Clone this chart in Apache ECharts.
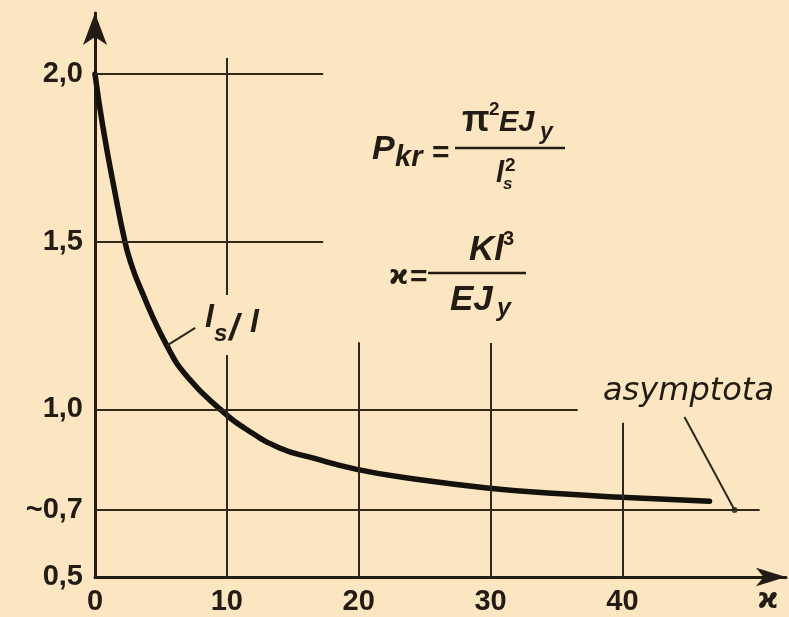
<!DOCTYPE html>
<html>
<head>
<meta charset="utf-8">
<script src="https://cdn.jsdelivr.net/npm/echarts@6/dist/echarts.min.js"></script>
<style>
html,body{margin:0;padding:0;background:#FBE6C1;}
#chart{width:789px;height:617px;}
</style>
</head>
<body>
<div id="chart"></div>
<script>
// ---- data ----
const curveX = [0, 0.6, 1.52, 2.27, 2.65, 3.4, 5.45, 7.05, 9.5, 11.5, 14.0, 16.5, 19.85, 24.1, 29.9, 35.0, 39.9, 46.6];
const curveY = [2.0, 1.842, 1.645, 1.5, 1.445, 1.365, 1.19, 1.095, 1.0, 0.94, 0.885, 0.855, 0.821, 0.793, 0.765, 0.749, 0.738, 0.726];
const xTicks = [0, 10, 20, 30, 40];
const yTickValues = [0.5, 0.7, 1.0, 1.5, 2.0];
const yTickLabels = ['0,5', '~0,7', '1,0', '1,5', '2,0'];
// horizontal guide lines: [y, xEnd]
const hLines = [[2.0, 17.3], [1.5, 17.3], [1.0, 36.6], [0.7, 50.4]];
// vertical guide lines: [x, yFrom, yTo]
const vLines = [[10, 1.341, 2.048], [10, 0.5, 1.162], [20, 0.5, 1.20], [30, 0.5, 1.198], [40, 0.5, 0.96]];
const lsLeader = [[5.45, 1.19], [7.6, 1.243]];
const asymLeader = [[44.7, 0.977], [48.5, 0.7]];
const asymPoint = [48.5, 0.7];

const ink = '#221c14';
const chart = echarts.init(document.getElementById('chart'), null, {renderer: 'canvas'});

const guideData = [];
hLines.forEach(h => guideData.push([{coord: [0, h[0]]}, {coord: [h[1], h[0]]}]));
vLines.forEach(v => guideData.push([{coord: [v[0], v[1]]}, {coord: [v[0], v[2]]}]));
guideData.push([{coord: lsLeader[0]}, {coord: lsLeader[1]}]);
guideData.push([{coord: asymLeader[0]}, {coord: asymLeader[1]}]);

function txt(x, y, text, size, opts) {
  opts = opts || {};
  return {
    type: 'text', x: x, y: y, silent: true, z: 10,
    style: {
      text: text, fill: ink,
      fontSize: size,
      fontFamily: opts.family || 'Liberation Sans',
      fontStyle: opts.italic === false ? 'normal' : 'italic',
      fontWeight: opts.weight || 'bold',
      align: 'left', verticalAlign: 'middle'
    }
  };
}
function bar(x1, x2, y) {
  return {type: 'line', silent: true, z: 10, shape: {x1: x1, y1: y, x2: x2, y2: y}, style: {stroke: ink, lineWidth: 2.5}};
}

chart.setOption({
  animation: false,
  backgroundColor: '#FBE6C1',
  grid: {left: 95, right: 2, top: 13, bottom: 40},
  xAxis: {
    type: 'value', min: 0, max: 52.4, interval: 10,
    axisLine: {show: true, symbol: ['none', 'arrow'], symbolSize: [14, 30], lineStyle: {color: ink, width: 3}},
    axisTick: {show: false},
    splitLine: {show: false},
    axisLabel: {
      color: ink, fontSize: 29, fontWeight: 'bold', fontFamily: 'Liberation Sans', margin: 10,
      formatter: v => (xTicks.indexOf(v) >= 0 ? String(v) : '')
    },
    name: 'ϰ', nameLocation: 'end', nameGap: -18,
    nameTextStyle: {color: ink, fontSize: 28, fontWeight: 'bold', fontFamily: 'DejaVu Sans', align: 'center', verticalAlign: 'top', padding: [10, 0, 0, 0]}
  },
  yAxis: {
    type: 'value', min: 0.5, max: 2.182,
    axisLine: {show: true, symbol: ['none', 'arrow'], symbolSize: [18, 32], lineStyle: {color: ink, width: 3}},
    axisTick: {show: false},
    splitLine: {show: false},
    axisLabel: {
      color: ink, fontSize: 29, fontWeight: 'bold', fontFamily: 'Liberation Sans', margin: 12,
      customValues: yTickValues,
      formatter: v => {
        const i = yTickValues.findIndex(t => Math.abs(t - v) < 1e-6);
        return i >= 0 ? yTickLabels[i] : '';
      }
    }
  },
  series: [
    {
      type: 'line', data: [], z: 1, silent: true,
      markLine: {
        silent: true, symbol: ['none', 'none'], animation: false,
        label: {show: false},
        lineStyle: {type: 'solid', color: '#2e271c', width: 2},
        emphasis: {disabled: true},
        data: guideData
      }
    },
    {
      type: 'line', z: 3, silent: true,
      data: curveX.map((x, i) => [x, curveY[i]]),
      showSymbol: false, symbol: 'none',
      smooth: 0.5,
      lineStyle: {color: '#15110c', width: 5.5, cap: 'round', join: 'round'}
    },
    {
      type: 'scatter', z: 4, silent: true,
      data: [asymPoint], symbolSize: 6, itemStyle: {color: ink}
    }
  ],
  graphic: [
    // P_kr = pi^2 E J_y / l_s^2
    txt(372, 150, 'P', 34),
    txt(395, 158, 'kr', 29),
    txt(432, 154, '=', 30, {italic: false}),
    bar(455, 565, 148),
    txt(462, 121, 'π', 36, {italic: false}),
    txt(489, 110, '2', 19, {italic: false}),
    txt(499, 123, 'EJ', 29),
    txt(540, 133, 'y', 23),
    txt(496, 174, 'l', 29),
    txt(505, 166, '2', 19, {italic: false}),
    txt(503, 184, 's', 17),
    // kappa = K l^3 / E J_y
    txt(389, 277, 'ϰ', 26, {family: 'DejaVu Sans', italic: false}),
    txt(410, 278, '=', 30, {italic: false}),
    bar(428, 526, 273),
    txt(469, 250, 'Kl', 35),
    txt(503, 239, '3', 20, {italic: false}),
    txt(450, 300, 'EJ', 35),
    txt(497, 309, 'y', 25),
    // l_s / l label
    txt(205, 318, 'l', 32),
    txt(214, 334, 's', 24),
    txt(229, 330, '/', 36),
    txt(250, 323, 'l', 32),
    // asymptote label
    txt(603, 392, 'asymptota', 32, {family: 'DejaVu Sans', weight: 'normal'})
  ]
});
</script>
</body>
</html>
